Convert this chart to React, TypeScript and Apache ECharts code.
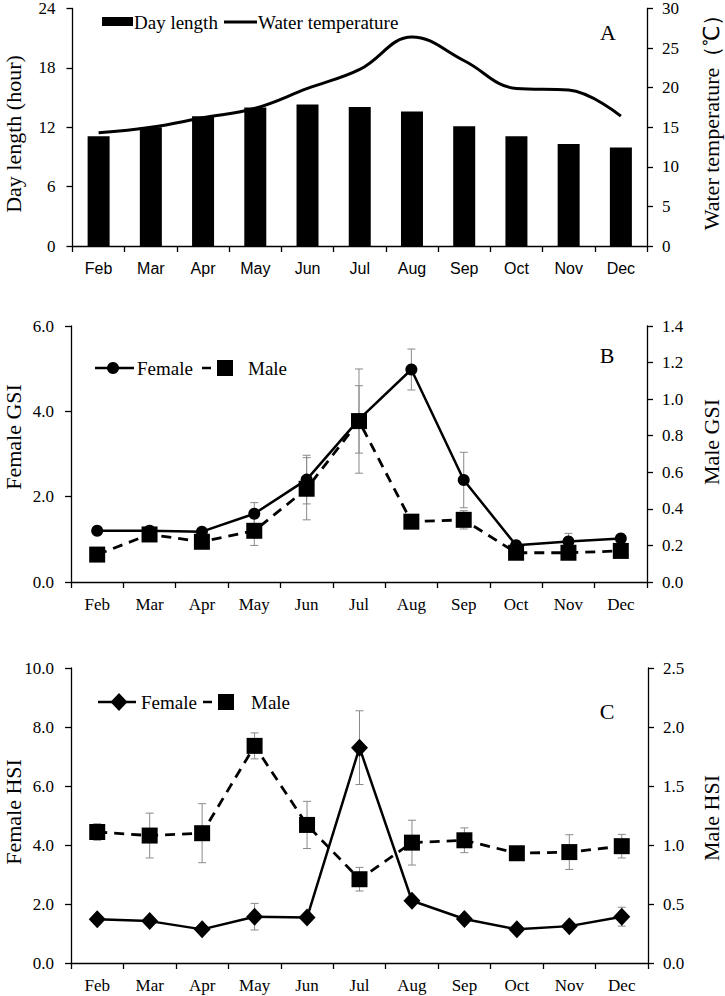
import React, { useEffect, useRef } from "react";
import * as echarts from "echarts";

const months = ["Feb", "Mar", "Apr", "May", "Jun", "Jul", "Aug", "Sep", "Oct", "Nov", "Dec"];

// Panel A
const dayLength = [11.1, 12.0, 13.1, 14.0, 14.3, 14.05, 13.6, 12.1, 11.1, 10.3, 9.95];
const waterTemp = [14.3, 15.0, 16.2, 17.4, 19.9, 22.3, 26.4, 23.4, 19.9, 19.7, 16.4];

// Panel B (GSI)
const gsiFemale = [1.2, 1.2, 1.18, 1.6, 2.4, 3.81, 4.98, 2.39, 0.86, 0.95, 1.02];
const gsiFemaleErr = [0.03, 0.05, 0.03, 0.26, 0.57, 0.79, 0.48, 0.65, 0.05, 0.19, 0.05];
const gsiMale = [0.15, 0.26, 0.22, 0.28, 0.51, 0.88, 0.33, 0.34, 0.16, 0.16, 0.17];
const gsiMaleErr = [0.01, 0.03, 0.02, 0.08, 0.17, 0.285, 0.02, 0.05, 0.02, 0.02, 0.02];

// Panel C (HSI)
const hsiFemale = [1.48, 1.42, 1.14, 1.57, 1.54, 7.3, 2.11, 1.49, 1.14, 1.25, 1.57];
const hsiFemaleErr = [0.05, 0.05, 0.05, 0.45, 0.05, 1.25, 0.1, 0.05, 0.05, 0.1, 0.32];
const hsiMale = [1.11, 1.08, 1.1, 1.84, 1.17, 0.71, 1.02, 1.04, 0.93, 0.94, 0.99];
const hsiMaleErr = [0.07, 0.19, 0.25, 0.11, 0.2, 0.1, 0.19, 0.105, 0.02, 0.147, 0.1];

const SERIF = "Liberation Serif";
const SANS = "Liberation Sans";

function errData(vals: number[], errs: number[]) {
  return vals.map((v, i) => [i, v - errs[i], v + errs[i]]);
}

function errSeries(name: string, vals: number[], errs: number[], xi: number, yi: number) {
  return {
    type: "custom",
    name,
    xAxisIndex: xi,
    yAxisIndex: yi,
    z: 1,
    silent: true,
    encode: { x: 0, y: [1, 2] },
    data: errData(vals, errs),
    renderItem: (params: any, api: any) => {
      const x = api.value(0);
      const lo = api.value(1);
      const hi = api.value(2);
      const p1 = api.coord([x, hi]);
      const p2 = api.coord([x, lo]);
      const w = 4;
      const st = { stroke: "#8a8a8a", lineWidth: 1 };
      return {
        type: "group",
        children: [
          { type: "line", shape: { x1: p1[0], y1: p1[1], x2: p2[0], y2: p2[1] }, style: st },
          { type: "line", shape: { x1: p1[0] - w, y1: p1[1], x2: p1[0] + w, y2: p1[1] }, style: st },
          { type: "line", shape: { x1: p2[0] - w, y1: p2[1], x2: p2[0] + w, y2: p2[1] }, style: st },
        ],
      };
    },
  };
}

const axisLineStyle = { color: "#000", width: 1.3 };

function xAxisDef(gi: number, font: string, size: number, margin: number) {
  return {
    type: "category",
    gridIndex: gi,
    data: months,
    boundaryGap: true,
    axisLine: { show: true, lineStyle: axisLineStyle },
    axisTick: { show: true, length: 6, lineStyle: axisLineStyle, alignWithLabel: false },
    axisLabel: { color: "#000", fontFamily: font, fontSize: size, margin, interval: 0 },
    splitLine: { show: false },
  };
}

function yAxisDef(gi: number, pos: string, min: number, max: number, interval: number, digits: number) {
  return {
    type: "value",
    gridIndex: gi,
    position: pos,
    min,
    max,
    interval,
    axisLine: { show: true, onZero: false, lineStyle: axisLineStyle },
    axisTick: { show: true, length: 6, lineStyle: axisLineStyle },
    axisLabel: {
      color: "#000",
      fontFamily: SERIF,
      fontSize: 17,
      margin: pos === "left" ? 17 : 15,
      formatter: (v: number) => v.toFixed(digits),
    },
    splitLine: { show: false },
  };
}

function txt(text: string, x: number, y: number, size: number, opts: any = {}) {
  return {
    type: "text",
    x,
    y,
    rotation: opts.rotation || 0,
    style: {
      text,
      fontFamily: SERIF,
      fontSize: size,
      fill: "#000",
      textAlign: opts.align || "left",
      align: opts.align || "left",
      textVerticalAlign: "middle",
      verticalAlign: "middle",
    },
  };
}

function hline(x1: number, x2: number, y: number, dashed = false) {
  return {
    type: "line",
    shape: { x1, y1: y, x2, y2: y },
    style: { stroke: "#000", lineWidth: 2.6, lineDash: dashed ? [9, 6] : null },
  };
}

export default function App() {
  const ref = useRef<HTMLDivElement>(null);

  useEffect(() => {
    document.body.style.margin = "0";
    if (!ref.current) return;
    const chart = echarts.init(ref.current, undefined, { renderer: "svg" });

    const lineBase = (name: string, data: number[], xi: number, yi: number, symbol: string, size: any, dashed: boolean) => ({
      type: "line",
      name,
      data,
      xAxisIndex: xi,
      yAxisIndex: yi,
      symbol,
      symbolSize: size,
      z: 3,
      itemStyle: { color: "#000" },
      lineStyle: { color: "#000", width: dashed ? 2.8 : 2.5, type: dashed ? [10, 7] : "solid" },
    });

    const option: any = {
      animation: false,
      backgroundColor: "#fff",
      grid: [
        { left: 72.5, top: 7, width: 574.5, height: 239 },
        { left: 71, top: 326, width: 576, height: 256 },
        { left: 71, top: 668, width: 577, height: 295 },
      ],
      xAxis: [xAxisDef(0, SANS, 16, 14), xAxisDef(1, SERIF, 17, 14), xAxisDef(2, SERIF, 17, 14)],
      yAxis: [
        yAxisDef(0, "left", 0, 24, 6, 0),
        yAxisDef(0, "right", 0, 30, 5, 0),
        yAxisDef(1, "left", 0, 6, 2, 1),
        yAxisDef(1, "right", 0, 1.4, 0.2, 1),
        yAxisDef(2, "left", 0, 10, 2, 1),
        yAxisDef(2, "right", 0, 2.5, 0.5, 1),
      ],
      series: [
        {
          type: "bar",
          name: "Day length",
          data: dayLength,
          xAxisIndex: 0,
          yAxisIndex: 0,
          barWidth: 22,
          itemStyle: { color: "#000" },
        },
        {
          type: "line",
          name: "Water temperature",
          data: waterTemp,
          xAxisIndex: 0,
          yAxisIndex: 1,
          smooth: 0.4,
          symbol: "none",
          z: 3,
          lineStyle: { color: "#000", width: 3 },
        },
        errSeries("Female GSI err", gsiFemale, gsiFemaleErr, 1, 2),
        errSeries("Male GSI err", gsiMale, gsiMaleErr, 1, 3),
        lineBase("Female", gsiFemale, 1, 2, "circle", 12, false),
        lineBase("Male", gsiMale, 1, 3, "rect", 16, true),
        errSeries("Female HSI err", hsiFemale, hsiFemaleErr, 2, 4),
        errSeries("Male HSI err", hsiMale, hsiMaleErr, 2, 5),
        lineBase("Female ", hsiFemale, 2, 4, "diamond", [17, 18], false),
        lineBase("Male ", hsiMale, 2, 5, "rect", 16, true),
      ],
      graphic: [
        // axis titles
        txt("Day length (hour)", 13, 134, 22, { rotation: Math.PI / 2, align: "center" }),
        txt("Water temperature（℃）", 711, 117, 22, { rotation: Math.PI / 2, align: "center" }),
        txt("Female GSI", 13, 437, 22, { rotation: Math.PI / 2, align: "center" }),
        txt("Male GSI", 711, 442, 22, { rotation: Math.PI / 2, align: "center" }),
        txt("Female HSI", 13, 812, 22, { rotation: Math.PI / 2, align: "center" }),
        txt("Male HSI", 711, 818, 22, { rotation: Math.PI / 2, align: "center" }),
        // panel letters
        txt("A", 608, 32, 22, { align: "center" }),
        txt("B", 607, 355, 22, { align: "center" }),
        txt("C", 607, 711, 22, { align: "center" }),
        // legend A
        { type: "rect", shape: { x: 102, y: 17, width: 31, height: 9 }, style: { fill: "#000" } },
        txt("Day length", 134, 22, 19),
        { type: "line", shape: { x1: 224, y1: 22, x2: 257, y2: 22 }, style: { stroke: "#000", lineWidth: 3 } },
        txt("Water temperature", 258, 22, 19),
        // legend B
        hline(95, 134, 368),
        { type: "circle", shape: { cx: 113, cy: 368, r: 6 }, style: { fill: "#000" } },
        txt("Female", 137, 368, 19),
        hline(202, 232, 368, true),
        { type: "rect", shape: { x: 217, y: 360, width: 16, height: 16 }, style: { fill: "#000" } },
        txt("Male", 248, 368, 19),
        // legend C
        hline(98, 136, 702),
        {
          type: "polygon",
          shape: { points: [[119, 693], [127.5, 702], [119, 711], [110.5, 702]] },
          style: { fill: "#000" },
        },
        txt("Female", 141, 702, 19),
        hline(203, 234, 702, true),
        { type: "rect", shape: { x: 218, y: 694, width: 16, height: 16 }, style: { fill: "#000" } },
        txt("Male", 251, 702, 19),
      ],
    };

    chart.setOption(option);
    return () => chart.dispose();
  }, []);

  return (
    <div
      ref={ref}
      style={{ position: "absolute", left: 0, top: 0, width: 725, height: 996, background: "#fff" }}
    />
  );
}
